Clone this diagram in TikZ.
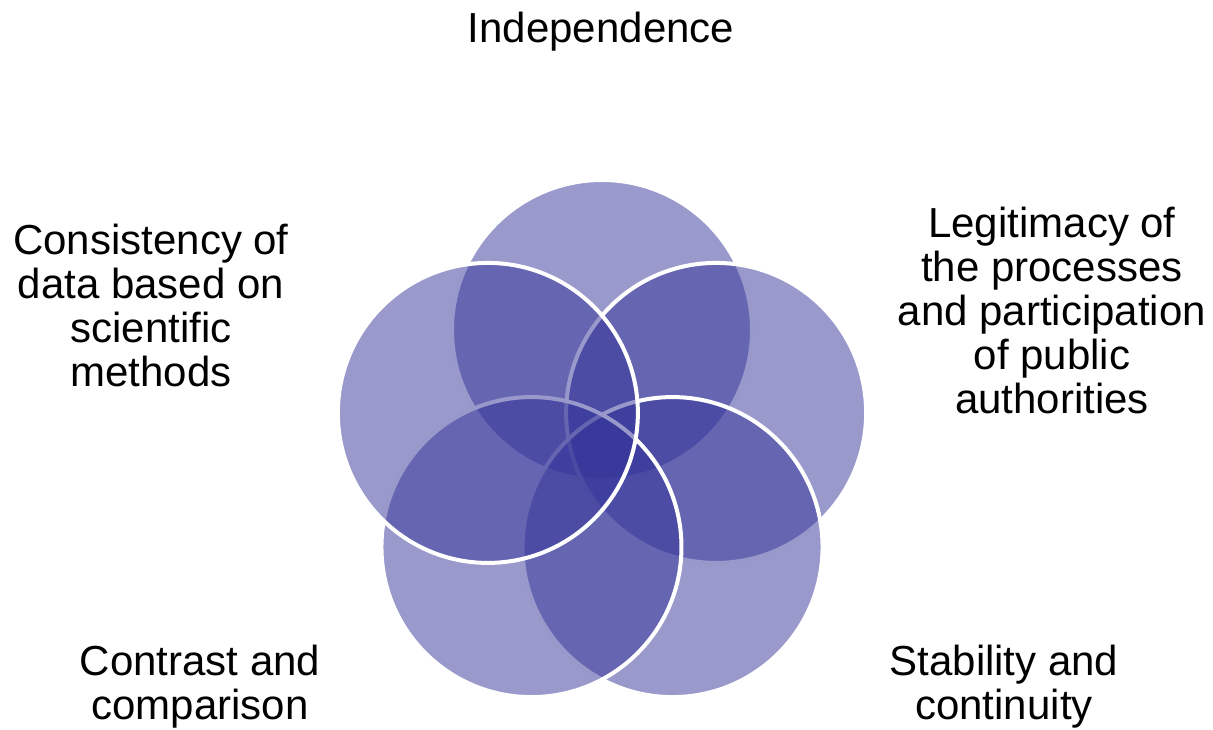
\documentclass[tikz,border=0pt]{standalone}
\usepackage{fontspec}
\setmainfont{Liberation Sans}
\usetikzlibrary{calc}
\definecolor{petalblue}{RGB}{51,51,153}

\begin{document}
\begin{tikzpicture}
	[
		x=1pt, y=-1pt,
		petal/.style = {shape=circle, minimum size=300pt, inner sep=0pt, fill=petalblue, fill opacity=0.5, draw=white, draw opacity=1, line width=4pt},
		lab/.style = {align=center, anchor=base, inner sep=0pt, font=\fontsize{42}{44}\selectfont}
	]
	
	\useasboundingbox (0, 0) rectangle (1213, 730);
	
	\def\x{602}
	\def\y{450}
	
	\coordinate (mid) at (\x, \y);
	
	\foreach \i/\a in {1/-90, 2/-18, 3/54, 4/126, 5/198}
		\node [petal] (p\i) at ($(mid) + (\a:120)$) {};
	
	\node [lab] (indep) at (601, 43) {Independence};
	\node [lab] (legit) at (1052, 413) {Legitimacy of\\the processes\\and participation\\of public\\authorities};
	\node [lab] (stab) at (1004, 719) {Stability and\\continuity};
	\node [lab] (contr) at (200, 719) {Contrast and\\comparison};
	\node [lab] (consist) at (151, 386) {Consistency of\\data based on\\scientific\\methods};
	
\end{tikzpicture}
\end{document}
